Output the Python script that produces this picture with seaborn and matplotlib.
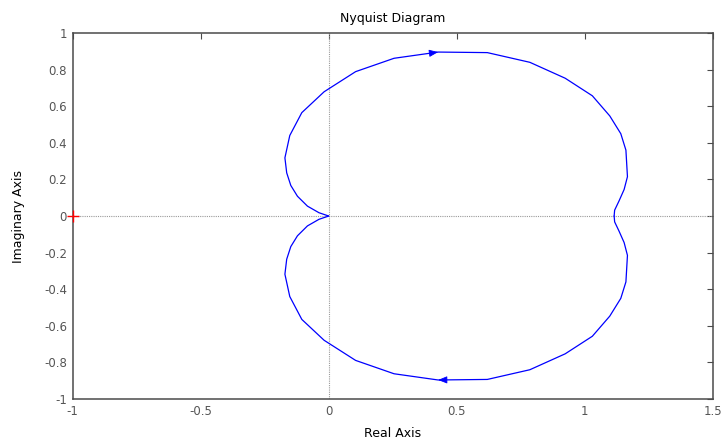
import matplotlib
matplotlib.use("Agg")
import matplotlib.pyplot as plt
import seaborn as sns
import pandas as pd

# Frequency response, omega >= 0 (runs from G(0) on the real axis down to the origin)
re_pos = [1.114, 1.116, 1.133, 1.153, 1.166, 1.160, 1.140, 1.097, 1.029, 0.923,
          0.785, 0.619, 0.427, 0.255, 0.105, -0.018, -0.105, -0.152, -0.171,
          -0.164, -0.148, -0.122, -0.083, -0.038, 0.000]
im_pos = [0.000, -0.032, -0.082, -0.145, -0.215, -0.360, -0.450, -0.547, -0.657,
          -0.753, -0.840, -0.893, -0.896, -0.862, -0.789, -0.679, -0.565, -0.440,
          -0.318, -0.236, -0.167, -0.108, -0.054, -0.018, 0.000]

# Mirror branch, omega <= 0 (origin back out to G(0))
re_neg = [0.000, -0.038, -0.083, -0.122, -0.148, -0.164, -0.171, -0.152, -0.105,
          -0.018, 0.105, 0.255, 0.427, 0.619, 0.785, 0.923, 1.029, 1.097, 1.140,
          1.160, 1.166, 1.153, 1.133, 1.116, 1.114]
im_neg = [0.000, 0.018, 0.054, 0.108, 0.167, 0.236, 0.318, 0.440, 0.565, 0.679,
          0.789, 0.862, 0.896, 0.893, 0.840, 0.753, 0.657, 0.547, 0.450, 0.360,
          0.215, 0.145, 0.082, 0.032, 0.000]

# Critical point -1 + 0j
crit_re = [-1.0]
crit_im = [0.0]

x_ticks = [-1, -0.5, 0, 0.5, 1, 1.5]
y_ticks = [-1, -0.8, -0.6, -0.4, -0.2, 0, 0.2, 0.4, 0.6, 0.8, 1]

# Which vertex on each branch carries the direction arrow
arrow_idx_pos = 12
arrow_idx_neg = 12

sns.set_style("white")
plt.rcParams["font.family"] = ["DejaVu Sans"]

fig = plt.figure(figsize=(7.23, 4.41), dpi=100)
ax = fig.add_axes([0.1003, 0.0952, 0.8859, 0.8299])

blue = (0, 0, 1)
pos = pd.DataFrame({"re": re_pos, "im": im_pos})
neg = pd.DataFrame({"re": re_neg, "im": im_neg})

# zero lines
ax.axhline(0, color="#9a9a9a", lw=0.8, ls=(0, (1, 1)), zorder=1)
ax.axvline(0, color="#9a9a9a", lw=0.8, ls=(0, (1, 1)), zorder=1)

sns.lineplot(data=pos, x="re", y="im", sort=False, estimator=None,
             color=blue, lw=0.9, ax=ax, zorder=3)
sns.lineplot(data=neg, x="re", y="im", sort=False, estimator=None,
             color=blue, lw=0.9, ax=ax, zorder=3)

# direction arrows: tip on the chosen vertex, head along the incoming segment
def draw_arrow(res, ims, k):
    tip = (res[k], ims[k])
    prev = (res[k - 1], ims[k - 1])
    t = 0.16
    tail = (tip[0] + t * (prev[0] - tip[0]), tip[1] + t * (prev[1] - tip[1]))
    ax.annotate("", xy=tip, xytext=tail,
                arrowprops=dict(arrowstyle="-|>,head_length=0.55,head_width=0.22",
                                color=blue, lw=0.6, shrinkA=0, shrinkB=0),
                zorder=4)

draw_arrow(re_pos, im_pos, arrow_idx_pos)
draw_arrow(re_neg, im_neg, arrow_idx_neg)

ax.plot(crit_re, crit_im, marker="+", color="red", ms=8, mew=1.0,
        ls="none", zorder=5, clip_on=False)

ax.set_xlim(-1, 1.5)
ax.set_ylim(-1, 1)
ax.set_xticks(x_ticks)
ax.set_yticks(y_ticks)
ax.set_xticklabels([f"{v:g}" for v in x_ticks])
ax.set_yticklabels([f"{v:g}" for v in y_ticks])

spine_col = "#4a4a4a"
for s in ax.spines.values():
    s.set_visible(True)
    s.set_color(spine_col)
    s.set_linewidth(1.1)

ax.tick_params(direction="in", length=4, width=0.8, color=spine_col,
               top=True, right=True, labelsize=8.5, labelcolor="#555555", pad=4)

ax.set_xlabel("Real Axis", fontsize=9, color="black", labelpad=7)
ax.set_ylabel("Imaginary Axis", fontsize=9, color="black", labelpad=14)
ax.set_title("Nyquist Diagram", fontsize=9, color="black", pad=8)

fig.savefig("out.png", dpi=100)
